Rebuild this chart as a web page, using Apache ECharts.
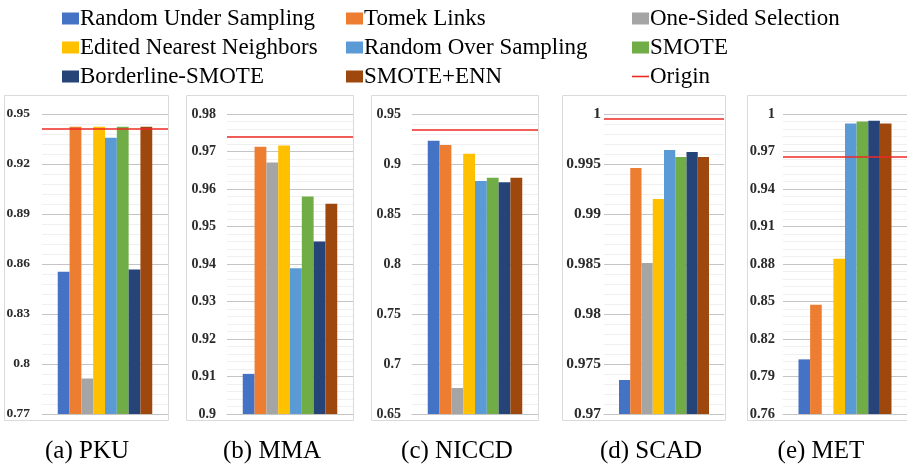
<!DOCTYPE html>
<html>
<head>
<meta charset="utf-8">
<script src="https://cdn.jsdelivr.net/npm/echarts@6/dist/echarts.min.js"></script>
<style>
html,body{margin:0;padding:0;background:#fff;}
#chart{width:907px;height:466px;}
</style>
</head>
<body>
<div id="chart"></div>
<script>
// ---- data ----
var datasets = ['PKU', 'MMA', 'NICCD', 'SCAD', 'MET'];
var captions = ['(a) PKU', '(b) MMA', '(c) NICCD', '(d) SCAD', '(e) MET'];
var methods = ['Random Under Sampling', 'Tomek Links', 'One-Sided Selection',
  'Edited Nearest Neighbors', 'Random Over Sampling', 'SMOTE',
  'Borderline-SMOTE', 'SMOTE+ENN'];
// values per method, order: PKU, MMA, NICCD, SCAD, MET
var randomUnder   = [0.8553, 0.9107, 0.9233, 0.9734, 0.8037];
var tomekLinks    = [0.9424, 0.9713, 0.9190, 0.9946, 0.8475];
var oneSided      = [0.7913, 0.9671, 0.6760, 0.9851, null]; // MET: below axis range
var editedNN      = [0.9424, 0.9716, 0.9103, 0.9915, 0.8843];
var randomOver    = [0.9358, 0.9389, 0.8830, 0.9964, 0.9925];
var smote         = [0.9424, 0.9580, 0.8863, 0.9957, 0.9941];
var borderline    = [0.8567, 0.9460, 0.8817, 0.9962, 0.9947];
var smoteEnn      = [0.9424, 0.9561, 0.8863, 0.9957, 0.9925];
var origin        = [0.9412, 0.9739, 0.9340, 0.9995, 0.9659];
var methodValues = [randomUnder, tomekLinks, oneSided, editedNN, randomOver, smote, borderline, smoteEnn];

// tick labels per panel
var ticksPKU   = [0.77, 0.8, 0.83, 0.86, 0.89, 0.92, 0.95];
var ticksMMA   = [0.9, 0.91, 0.92, 0.93, 0.94, 0.95, 0.96, 0.97, 0.98];
var ticksNICCD = [0.65, 0.7, 0.75, 0.8, 0.85, 0.9, 0.95];
var ticksSCAD  = [0.97, 0.975, 0.98, 0.985, 0.99, 0.995, 1];
var ticksMET   = [0.76, 0.79, 0.82, 0.85, 0.88, 0.91, 0.94, 0.97, 1];
var tickSets = [ticksPKU, ticksMMA, ticksNICCD, ticksSCAD, ticksMET];

// ---- styles / layout ----
var colors = ['#4472C4', '#ED7D31', '#A5A5A5', '#FFC000', '#5B9BD5', '#70AD47', '#264478', '#9E480E'];
var gridLeft  = [42, 227, 412, 604, 783];
var gridWidth = [126, 126, 126, 120, 126];
var boxes = [[4, 168], [186, 353], [371, 538], [562, 725], [747, 912]];
var captionX = [87, 272, 457, 651, 821];
var labelMargin = [12, 11, 11, 3, 8];
var labelSize = [13.5, 14, 14, 15.5, 14.5];

var grids = [], xAxes = [], yAxes = [], series = [], graphics = [];
for (var d = 0; d < 5; d++) {
  var t = tickSets[d];
  var mn = t[0], mx = t[t.length - 1];
  var step = (t[1] - t[0]) / 5;
  var minor = [];
  for (var k = 1; k < (t.length - 1) * 5; k++) {
    if (k % 5 !== 0) minor.push(+(mn + step * k).toFixed(6));
  }
  grids.push({left: gridLeft[d], width: gridWidth[d], top: 114, height: 300, containLabel: false});
  xAxes.push({
    type: 'category', gridIndex: d, data: [datasets[d]],
    axisLine: {show: true, lineStyle: {color: '#c4c4c4', width: 1}},
    axisTick: {show: false}, axisLabel: {show: false}, splitLine: {show: false}
  });
  yAxes.push({
    type: 'value', gridIndex: d, min: mn, max: mx, position: 'left',
    axisLine: {show: false},
    axisTick: {show: false, customValues: t},
    axisLabel: {
      customValues: t, margin: labelMargin[d],
      fontFamily: 'Liberation Serif', fontWeight: 'bold', fontSize: labelSize[d], color: '#2b2b2b',
      formatter: function (v) { return String(+(+v).toFixed(4)); }
    },
    splitLine: {show: true, lineStyle: {color: '#c4c4c4', width: 1}}
  });
  yAxes.push({
    type: 'value', gridIndex: d, min: mn, max: mx, position: 'left',
    axisLine: {show: false},
    axisTick: {show: false, customValues: minor},
    axisLabel: {show: false, customValues: minor},
    splitLine: {show: true, lineStyle: {color: '#f0f0f0', width: 1}}
  });
  for (var m = 0; m < methods.length; m++) {
    series.push({
      type: 'bar', name: methods[m], xAxisIndex: d, yAxisIndex: 2 * d,
      data: [methodValues[m][d]],
      barGap: '0%', barCategoryGap: '25%',
      itemStyle: {color: colors[m]}
    });
  }
  series.push({
    type: 'line', name: 'Origin', xAxisIndex: d, yAxisIndex: 2 * d,
    data: [], symbol: 'none', showSymbol: false,
    lineStyle: {color: '#EE2A24', width: 1.5},
    itemStyle: {color: '#EE2A24'},
    markLine: {
      silent: true, symbol: ['none', 'none'], animation: false, precision: 5,
      label: {show: false},
      lineStyle: {color: '#EE2A24', width: 1.5, type: 'solid'},
      data: [{yAxis: origin[d]}]
    }
  });
  graphics.push({
    type: 'rect', z: -10, silent: true,
    shape: {x: boxes[d][0] + 0.5, y: 95.5, width: boxes[d][1] - boxes[d][0], height: 325},
    style: {fill: null, stroke: '#dadada', lineWidth: 1}
  });
  graphics.push({
    type: 'text', silent: true,
    style: {
      text: captions[d], x: captionX[d], y: 451, textAlign: 'center', textVerticalAlign: 'middle',
      font: '25px "Liberation Serif"', fill: '#000'
    }
  });
}

var legendText = {fontFamily: 'Liberation Serif', fontSize: 23, color: '#000', lineHeight: 22, padding: [0, 0, 0, -4]};
function legendCol(names, left) {
  return {
    orient: 'vertical', left: left, top: 7, itemGap: 6, itemWidth: 17, itemHeight: 12,
    selectedMode: false, textStyle: legendText, padding: 0,
    data: names.map(function (n) {
      return n === 'Origin'
        ? {name: n, icon: 'path://M0,0 L17,0 L17,1.6 L0,1.6 Z', itemStyle: {color: '#EE2A24'}}
        : {name: n, icon: 'rect'};
    })
  };
}

var chart = echarts.init(document.getElementById('chart'), null, {renderer: 'canvas'});
chart.setOption({
  backgroundColor: '#fff',
  animation: false,
  legend: [
    legendCol([methods[0], methods[3], methods[6]], 62),
    legendCol([methods[1], methods[4], methods[7]], 346),
    legendCol([methods[2], methods[5], 'Origin'], 632)
  ],
  grid: grids,
  xAxis: xAxes,
  yAxis: yAxes,
  series: series,
  graphic: graphics
});
</script>
</body>
</html>
